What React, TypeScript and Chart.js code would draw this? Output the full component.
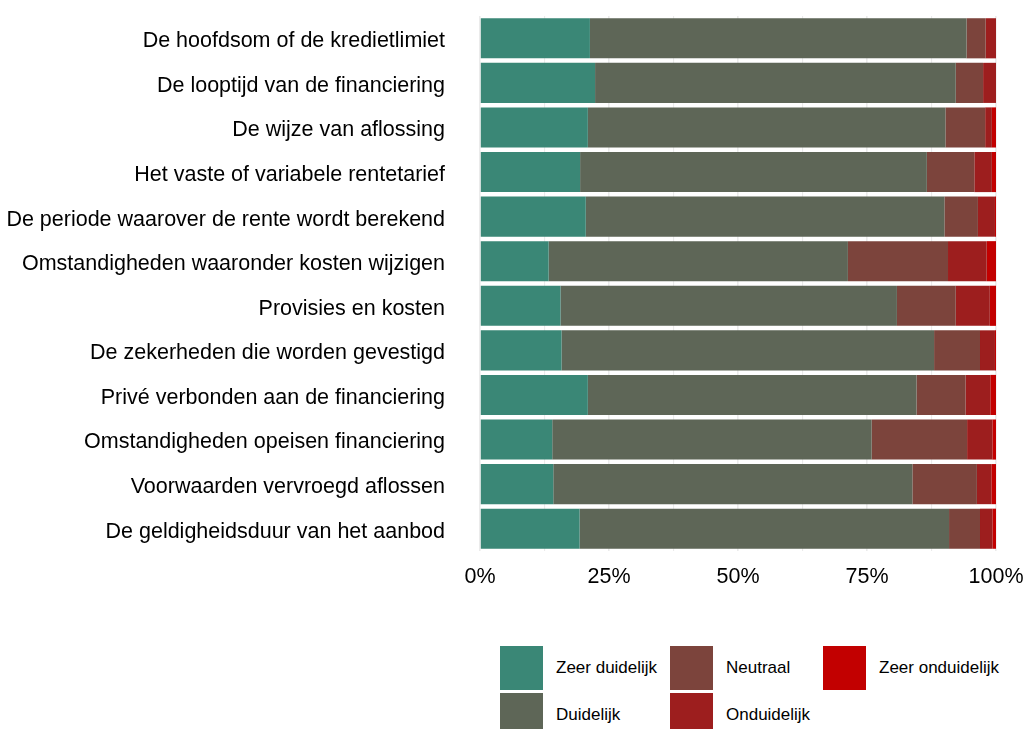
import React, { useEffect, useRef } from "react";
import { Chart, registerables } from "chart.js";

Chart.register(...registerables);

const categories = [
  "De hoofdsom of de kredietlimiet",
  "De looptijd van de financiering",
  "De wijze van aflossing",
  "Het vaste of variabele rentetarief",
  "De periode waarover de rente wordt berekend",
  "Omstandigheden waaronder kosten wijzigen",
  "Provisies en kosten",
  "De zekerheden die worden gevestigd",
  "Privé verbonden aan de financiering",
  "Omstandigheden opeisen financiering",
  "Voorwaarden vervroegd aflossen",
  "De geldigheidsduur van het aanbod",
];

const zeerDuidelijk = [21.3, 22.3, 20.9, 19.4, 20.5, 13.3, 15.6, 15.8, 20.9, 14.0, 14.2, 19.3];
const duidelijk = [73.0, 69.9, 69.3, 67.2, 69.5, 58.0, 65.2, 72.2, 63.7, 61.9, 69.6, 71.6];
const neutraal = [3.7, 5.3, 7.7, 9.2, 6.5, 19.4, 11.4, 8.9, 9.5, 18.5, 12.5, 6.0];
const onduidelijk = [2.0, 2.5, 1.3, 3.4, 3.3, 7.5, 6.6, 2.9, 4.8, 4.9, 2.8, 2.4];
const zeerOnduidelijk = [0.0, 0.0, 0.8, 0.8, 0.2, 1.8, 1.2, 0.2, 1.1, 0.7, 0.9, 0.7];

const seriesNames = ["Zeer duidelijk", "Duidelijk", "Neutraal", "Onduidelijk", "Zeer onduidelijk"];
const seriesColors = ["#3A8776", "#5E6657", "#7C443C", "#9D1E1E", "#C20000"];
const seriesValues = [zeerDuidelijk, duidelijk, neutraal, onduidelijk, zeerOnduidelijk];

const xTickLabels: Record<string, string> = { "0": "0%", "25": "25%", "50": "50%", "75": "75%", "100": "100%" };

const FONT = "'Liberation Sans', Arial, sans-serif";

export default function App() {
  const ref = useRef<HTMLCanvasElement | null>(null);

  useEffect(() => {
    if (!ref.current) return;
    const chart = new Chart(ref.current, {
      type: "bar",
      data: {
        labels: categories,
        datasets: seriesNames.map((name, i) => ({
          label: name,
          data: seriesValues[i],
          backgroundColor: seriesColors[i],
          borderWidth: 0,
          barPercentage: 0.9,
          categoryPercentage: 1,
        })),
      },
      options: {
        indexAxis: "y",
        animation: false,
        responsive: false,
        maintainAspectRatio: false,
        layout: { padding: { top: 16, right: 29, bottom: 9, left: 0 } },
        plugins: { legend: { display: false }, tooltip: { enabled: false } },
        scales: {
          x: {
            stacked: true,
            min: 0,
            max: 100,
            border: { display: false },
            grid: {
              color: "#EBEBEB",
              lineWidth: (ctx: any) => (ctx.tick && ctx.tick.value % 25 === 0 ? 1.6 : 1.1),
              drawTicks: false,
            },
            ticks: {
              stepSize: 12.5,
              autoSkip: false,
              maxRotation: 0,
              padding: 13,
              color: "#000",
              font: { family: FONT, size: 21.5 },
              callback: (v: any) => xTickLabels[String(v)] ?? "",
            },
            afterFit: (s: any) => {
              s.height = 40;
              s.paddingLeft = 0;
              s.paddingRight = 0;
            },
          },
          y: {
            stacked: true,
            border: { display: false },
            grid: { display: false, drawTicks: false },
            ticks: {
              padding: 35,
              labelOffset: 3,
              color: "#000",
              font: { family: FONT, size: 21.5 },
            },
            afterFit: (s: any) => {
              s.width = 480;
              s.paddingTop = 0;
              s.paddingBottom = 0;
            },
          },
        },
      },
    });
    return () => chart.destroy();
  }, []);

  const legendItem = (i: number, left: number, top: number) => (
    <div key={i} style={{ position: "absolute", left, top, display: "flex", alignItems: "center" }}>
      <div style={{ width: 43, height: 44, background: seriesColors[i] }} />
      <span style={{ marginLeft: 13, fontFamily: FONT, fontSize: 17, color: "#000" }}>{seriesNames[i]}</span>
    </div>
  );

  return (
    <div style={{ position: "absolute", left: 0, top: 0, width: 1025, height: 729, overflow: "hidden", background: "#fff" }}>
      <canvas ref={ref} width={1025} height={600} style={{ position: "absolute", left: 0, top: 0 }} />
      {legendItem(0, 500, 646)}
      {legendItem(1, 500, 693)}
      {legendItem(2, 670, 646)}
      {legendItem(3, 670, 693)}
      {legendItem(4, 823, 646)}
    </div>
  );
}
